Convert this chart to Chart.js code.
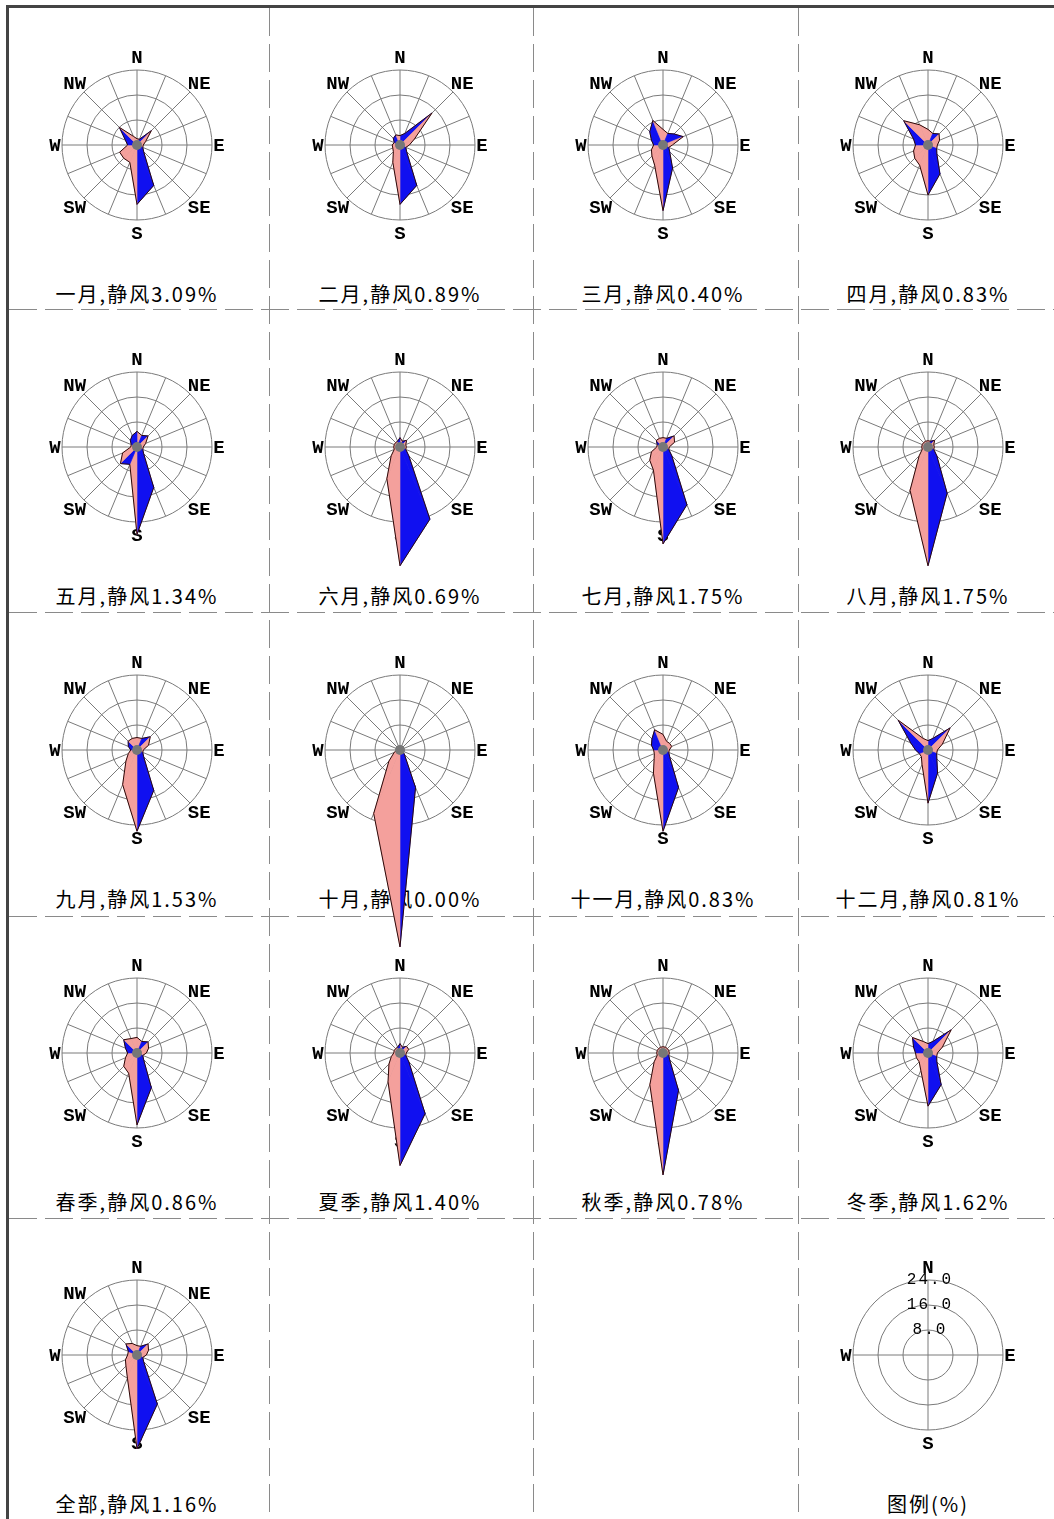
<!DOCTYPE html>
<html>
<head>
<meta charset="utf-8">
<script src="https://cdn.jsdelivr.net/npm/chart.js@4.4.1/dist/chart.umd.min.js"></script>
<style>
  body { margin: 0; background: #fff; width: 1054px; height: 1519px; overflow: hidden; position: relative; }
  #frame { position: absolute; left: 6px; top: 5px; width: 1100px; height: 1600px;
           border-left: 3px solid #444; border-top: 3px solid #444; }
  #lines { position: absolute; left: 0; top: 0; }
  canvas { position: absolute; }
  .cap { position: absolute; width: 250px; text-align: center; font-family: "Noto Sans CJK SC";
         font-size: 20px; letter-spacing: 2px; line-height: 26px; color: #000; white-space: nowrap; }
</style>
</head>
<body>
<div id="frame"></div>
<svg id="lines" width="1054" height="1519"></svg>
<script>
// wind directions, clockwise from north
const directions = ['N','NNE','NE','ENE','E','ESE','SE','SSE','S','SSW','SW','WSW','W','WNW','NW','NNW'];
const legendDirections = ['N','E','S','W'];
const scaleMax = 24;
const scaleStep = 8;

const panelTitles = ['一月','二月','三月','四月','五月','六月','七月','八月','九月','十月','十一月','十二月','春季','夏季','秋季','冬季','全部'];
const calmPct = [3.09, 0.89, 0.40, 0.83, 1.34, 0.69, 1.75, 1.75, 1.53, 0.00, 0.83, 0.81, 0.86, 1.40, 0.78, 1.62, 1.16];

// direction frequency (%), N..NNW
const jan = [2, 2, 6.5, 3, 2, 2, 3, 14, 19, 6, 6, 6, 3, 4, 8, 3];
const feb = [3, 4, 14.5, 5, 3, 2, 3, 14, 19, 6, 3, 2.5, 2.5, 2, 3, 3.5];
const mar = [5, 4, 5, 7, 3, 2, 3, 8, 21, 7, 5, 4, 3, 4, 6, 8.5];
const apr = [5, 4, 5, 4, 3, 3, 4, 10, 16, 7, 6, 5, 4, 5, 11, 7];
const may = [5, 4, 5, 3, 2, 2, 3, 14, 28, 6, 7.5, 5, 2, 2, 3, 4];
const jun = [3, 2, 3, 2, 2, 2, 4, 25, 38, 11, 4, 2, 2, 2, 2, 2];
const jul = [3, 3, 5, 4, 2, 2, 4, 20, 31, 8, 6, 4, 2, 2, 3, 3];
const aug = [2, 2, 3, 2, 2, 2, 4, 16, 38, 15, 4, 2, 2, 2, 2, 2];
const sep = [4, 4, 6, 4, 2, 2, 3, 14, 26, 12, 5, 3, 2, 3, 4, 4];
const oct = [1, 1, 1, 1, 1, 1, 2, 13, 63, 22, 5, 2, 1, 1, 1, 1];
const nov = [5, 3, 3, 3, 2, 2, 3, 13, 26, 8, 4, 3, 3, 4, 5, 7];
const dec = [3, 4, 10, 5, 3, 3, 4, 8, 17, 5, 3, 3, 4, 6, 13.5, 4];
const spring = [5, 4, 5, 4, 3, 2, 3, 12, 23, 7, 6, 4, 3, 4, 6, 5];
const summer = [3, 2, 3, 3, 2, 2, 4, 21, 36, 10, 5, 3, 2, 2, 2, 2];
const autumn = [2, 2, 2, 2, 2, 2, 3, 13, 39, 11, 4, 2, 2, 2, 2, 2];
const winter = [3, 4, 10.5, 5, 3, 3, 4, 11, 17, 6, 4, 4, 4, 5, 7, 4];
const annual = [3, 3, 5, 4, 3, 2, 3, 17, 30, 8, 5, 4, 3, 3, 5, 4];
const panelData = [jan, feb, mar, apr, may, jun, jul, aug, sep, oct, nov, dec, spring, summer, autumn, winter, annual];

// layout
const colCenters = [137, 400, 663, 928];
const rowCenters = [145, 447, 750, 1053, 1355];
const colLines = [269, 533, 798];
const rowLines = [309, 612, 916, 1218];
const canvasW = 264, canvasH = 360, originX = 130, originY = 138, radius = 75;

const gridColor = '#7a7a7a';
const pink = '#f4a09c';
const blue = '#1010f0';

// dashed cell dividers
const svg = document.getElementById('lines');
let svgHtml = '';
colLines.forEach(x => {
  svgHtml += `<line x1="${x + 0.5}" y1="8" x2="${x + 0.5}" y2="1519" stroke="#8a8a8a" stroke-width="1" stroke-dasharray="28 8"/>`;
});
rowLines.forEach(y => {
  svgHtml += `<line x1="9" y1="${y + 0.5}" x2="1054" y2="${y + 0.5}" stroke="#8a8a8a" stroke-width="1" stroke-dasharray="28 8"/>`;
});
svg.innerHTML = svgHtml;

function addCaption(text, cx, cy) {
  const d = document.createElement('div');
  d.className = 'cap';
  d.textContent = text;
  d.style.left = (cx - 125) + 'px';
  d.style.top = (cy + 149 - 13) + 'px';
  document.body.appendChild(d);
}

// direction letters and legend ticks go under the petals, then the two-tone petals and the hub
const rosePlugin = {
  id: 'rose',
  beforeDatasetsDraw(chart, args, opts) {
    const r = chart.scales.r;
    const ctx = chart.ctx;
    ctx.save();
    ctx.fillStyle = '#000';
    ctx.textAlign = 'center';
    ctx.textBaseline = 'middle';
    ctx.font = 'bold 19px "Liberation Mono"';
    chart.data.labels.forEach((lab, i) => {
      if (lab.length > 2) return;
      const dist = (lab === 'E' || lab === 'W') ? radius + 7 : radius + 13;
      const p = r.getPointPosition(i, dist);
      ctx.fillText(lab, p.x, p.y + 1);
    });
    if (opts.tickLabels) {
      ctx.font = '16px "Liberation Mono"';
      ctx.letterSpacing = '2px';
      r.ticks.forEach(t => {
        if (t.value === 0) return;
        const d = r.getDistanceFromCenterForValue(t.value);
        ctx.fillText(t.value.toFixed(1), r.xCenter + 2, r.yCenter - d);
      });
    }
    ctx.restore();

    if (!opts.petals) return;
    const pts = chart.getDatasetMeta(0).data;
    const vals = chart.data.datasets[0].data;
    ctx.save();
    for (let i = 0; i < pts.length; i++) {
      const j = (i + 1) % pts.length;
      const c = vals[i] >= vals[j] ? pink : blue;
      ctx.beginPath();
      ctx.moveTo(r.xCenter, r.yCenter);
      ctx.lineTo(pts[i].x, pts[i].y);
      ctx.lineTo(pts[j].x, pts[j].y);
      ctx.closePath();
      ctx.fillStyle = c;
      ctx.strokeStyle = c;
      ctx.lineWidth = 0.6;
      ctx.fill();
      ctx.stroke();
    }
    ctx.restore();
  },
  afterDatasetsDraw(chart, args, opts) {
    if (!opts.petals) return;
    const r = chart.scales.r;
    const ctx = chart.ctx;
    ctx.save();
    ctx.fillStyle = '#777';
    ctx.beginPath();
    ctx.arc(r.xCenter, r.yCenter, 5, 0, Math.PI * 2);
    ctx.fill();
    ctx.restore();
  }
};

function makeRose(labels, data, cx, cy, pluginOpts) {
  const cv = document.createElement('canvas');
  cv.width = canvasW;
  cv.height = canvasH;
  cv.style.left = (cx - originX) + 'px';
  cv.style.top = (cy - originY) + 'px';
  document.body.appendChild(cv);
  new Chart(cv.getContext('2d'), {
    type: 'radar',
    data: {
      labels: labels,
      datasets: [{
        data: data,
        fill: false,
        borderColor: pluginOpts.petals ? '#2a0808' : 'rgba(0,0,0,0)',
        borderWidth: 1,
        pointRadius: 0,
        clip: false
      }]
    },
    options: {
      responsive: false,
      animation: false,
      events: [],
      layout: {
        padding: {
          left: originX - radius,
          top: originY - radius,
          right: canvasW - originX - radius,
          bottom: canvasH - originY - radius
        }
      },
      plugins: { legend: { display: false }, tooltip: { enabled: false }, rose: pluginOpts },
      scales: {
        r: {
          min: 0,
          max: scaleMax,
          ticks: { display: false, stepSize: scaleStep },
          grid: { circular: true, color: gridColor, lineWidth: 1 },
          angleLines: { color: gridColor, lineWidth: 1 },
          pointLabels: { display: false }
        }
      }
    },
    plugins: [rosePlugin]
  });
}

// captions first so that long petals draw over them
panelTitles.forEach((t, i) => {
  addCaption(t + ',静风' + calmPct[i].toFixed(2) + '%', colCenters[i % 4], rowCenters[Math.floor(i / 4)]);
});
addCaption('图例(%)', colCenters[3], rowCenters[4]);

panelData.forEach((d, i) => {
  makeRose(directions, d, colCenters[i % 4], rowCenters[Math.floor(i / 4)], { petals: true, tickLabels: false });
});
makeRose(legendDirections, [0, 0, 0, 0], colCenters[3], rowCenters[4], { petals: false, tickLabels: true });
</script>
</body>
</html>
